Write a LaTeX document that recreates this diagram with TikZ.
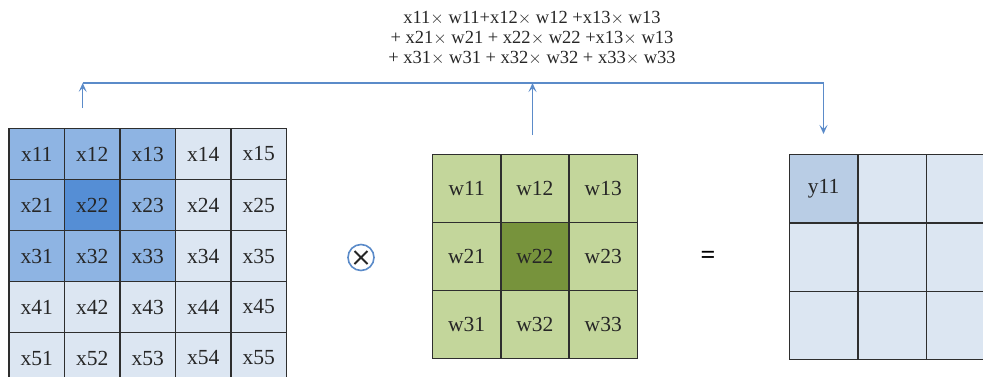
\documentclass[tikz,border=0pt]{standalone}
\usepackage{fontspec}
\setmainfont{Liberation Serif}
\usetikzlibrary{arrows.meta}
\definecolor{xlight}{HTML}{DCE6F2}
\definecolor{xmid}{HTML}{8EB4E3}
\definecolor{xdark}{HTML}{558ED5}
\definecolor{wlight}{HTML}{C3D69B}
\definecolor{wdark}{HTML}{77933C}
\definecolor{ymid}{HTML}{B9CDE5}
\definecolor{arrblue}{HTML}{5B8BC9}
\definecolor{gridline}{HTML}{2E2E2E}
\definecolor{txt}{HTML}{262626}
\tikzset{
  cellbox/.style={draw=gridline, line width=1.3pt, inner sep=0pt, text=txt,
    font=\fontsize{21.5}{23}\selectfont},
  xcell/.style={cellbox, minimum width=55.5pt, minimum height=51pt},
  wcell/.style={cellbox, minimum width=68pt, minimum height=68pt},
  conn/.style={draw=arrblue, line width=1.2pt},
  arr/.style={conn, -{Stealth[length=9pt,width=8pt,inset=4pt]}},
}
\begin{document}
\begin{tikzpicture}[x=1pt,y=-1pt]
\useasboundingbox (0,0) rectangle (983,376);
\clip (0,0) rectangle (983,376);
% input grid
\foreach \r in {1,...,5}{
  \foreach \c in {1,...,5}{
    \def\fc{xlight}
    \ifnum\r<4 \ifnum\c<4 \def\fc{xmid}\fi\fi
    \ifnum\r=2 \ifnum\c=2 \def\fc{xdark}\fi\fi
    \node[xcell, fill=\fc] (x\r\c) at ({9+55.5*(\c-0.5)},{128.5+51*(\r-0.5)}) {x\r\c};
  }
}
% kernel grid
\foreach \r in {1,...,3}{
  \foreach \c in {1,...,3}{
    \def\fc{wlight}
    \ifnum\r=2 \ifnum\c=2 \def\fc{wdark}\fi\fi
    \node[wcell, fill=\fc] (w\r\c) at ({432.5+68.3*(\c-0.5)},{154.3+68*(\r-0.5)}) {w\r\c};
  }
}
% output grid
\node[wcell, fill=ymid, anchor=north west] (y11) at (789,154) {\raisebox{3pt}{y11}};
\node[wcell, fill=xlight, anchor=north west] (y12) at (857.5,154) {};
\node[wcell, fill=xlight, anchor=north west] (y13) at (926,154) {};
\node[wcell, fill=xlight, anchor=north west] (y21) at (789,222.5) {};
\node[wcell, fill=xlight, anchor=north west] (y22) at (857.5,222.5) {};
\node[wcell, fill=xlight, anchor=north west] (y23) at (926,222.5) {};
\node[wcell, fill=xlight, anchor=north west] (y31) at (789,291) {};
\node[wcell, fill=xlight, anchor=north west] (y32) at (857.5,291) {};
\node[wcell, fill=xlight, anchor=north west] (y33) at (926,291) {};
% operator and equals
\node[circle, draw=arrblue, line width=1.6pt, minimum size=26pt, inner sep=0pt] (op) at (361,257.5) {};
\draw[line width=1.9pt, txt] ([shift={(-6.5pt,-6.5pt)}]op.center) -- ([shift={(6.5pt,6.5pt)}]op.center)
  ([shift={(-6.5pt,6.5pt)}]op.center) -- ([shift={(6.5pt,-6.5pt)}]op.center);
\node[font=\fontsize{26}{28}\selectfont\bfseries, text=black] (eq) at (708,257) {=};
% formula
\node[align=center, font=\fontsize{18.5}{20}\selectfont, text=txt] (formula) at (532,38)
  {x11$\times$ w11+x12$\times$ w12 +x13$\times$ w13\\
   + x21$\times$ w21 + x22$\times$ w22 +x13$\times$ w13\\
   + x31$\times$ w31 + x32$\times$ w32 + x33$\times$ w33};
% connectors
\coordinate (lstart) at (82.7,108);
\coordinate (ljoin) at (82.7,83);
\coordinate (mstart) at (532.5,135);
\coordinate (mjoin) at (532.5,83);
\coordinate (rjoin) at (823.5,83);
\coordinate (rend) at (823.5,134);
\draw[arr] (lstart) -- (ljoin);
\draw[arr] (mstart) -- (mjoin);
\draw[arr] (ljoin) -- (rjoin) -- (rend);
\end{tikzpicture}
\end{document}
